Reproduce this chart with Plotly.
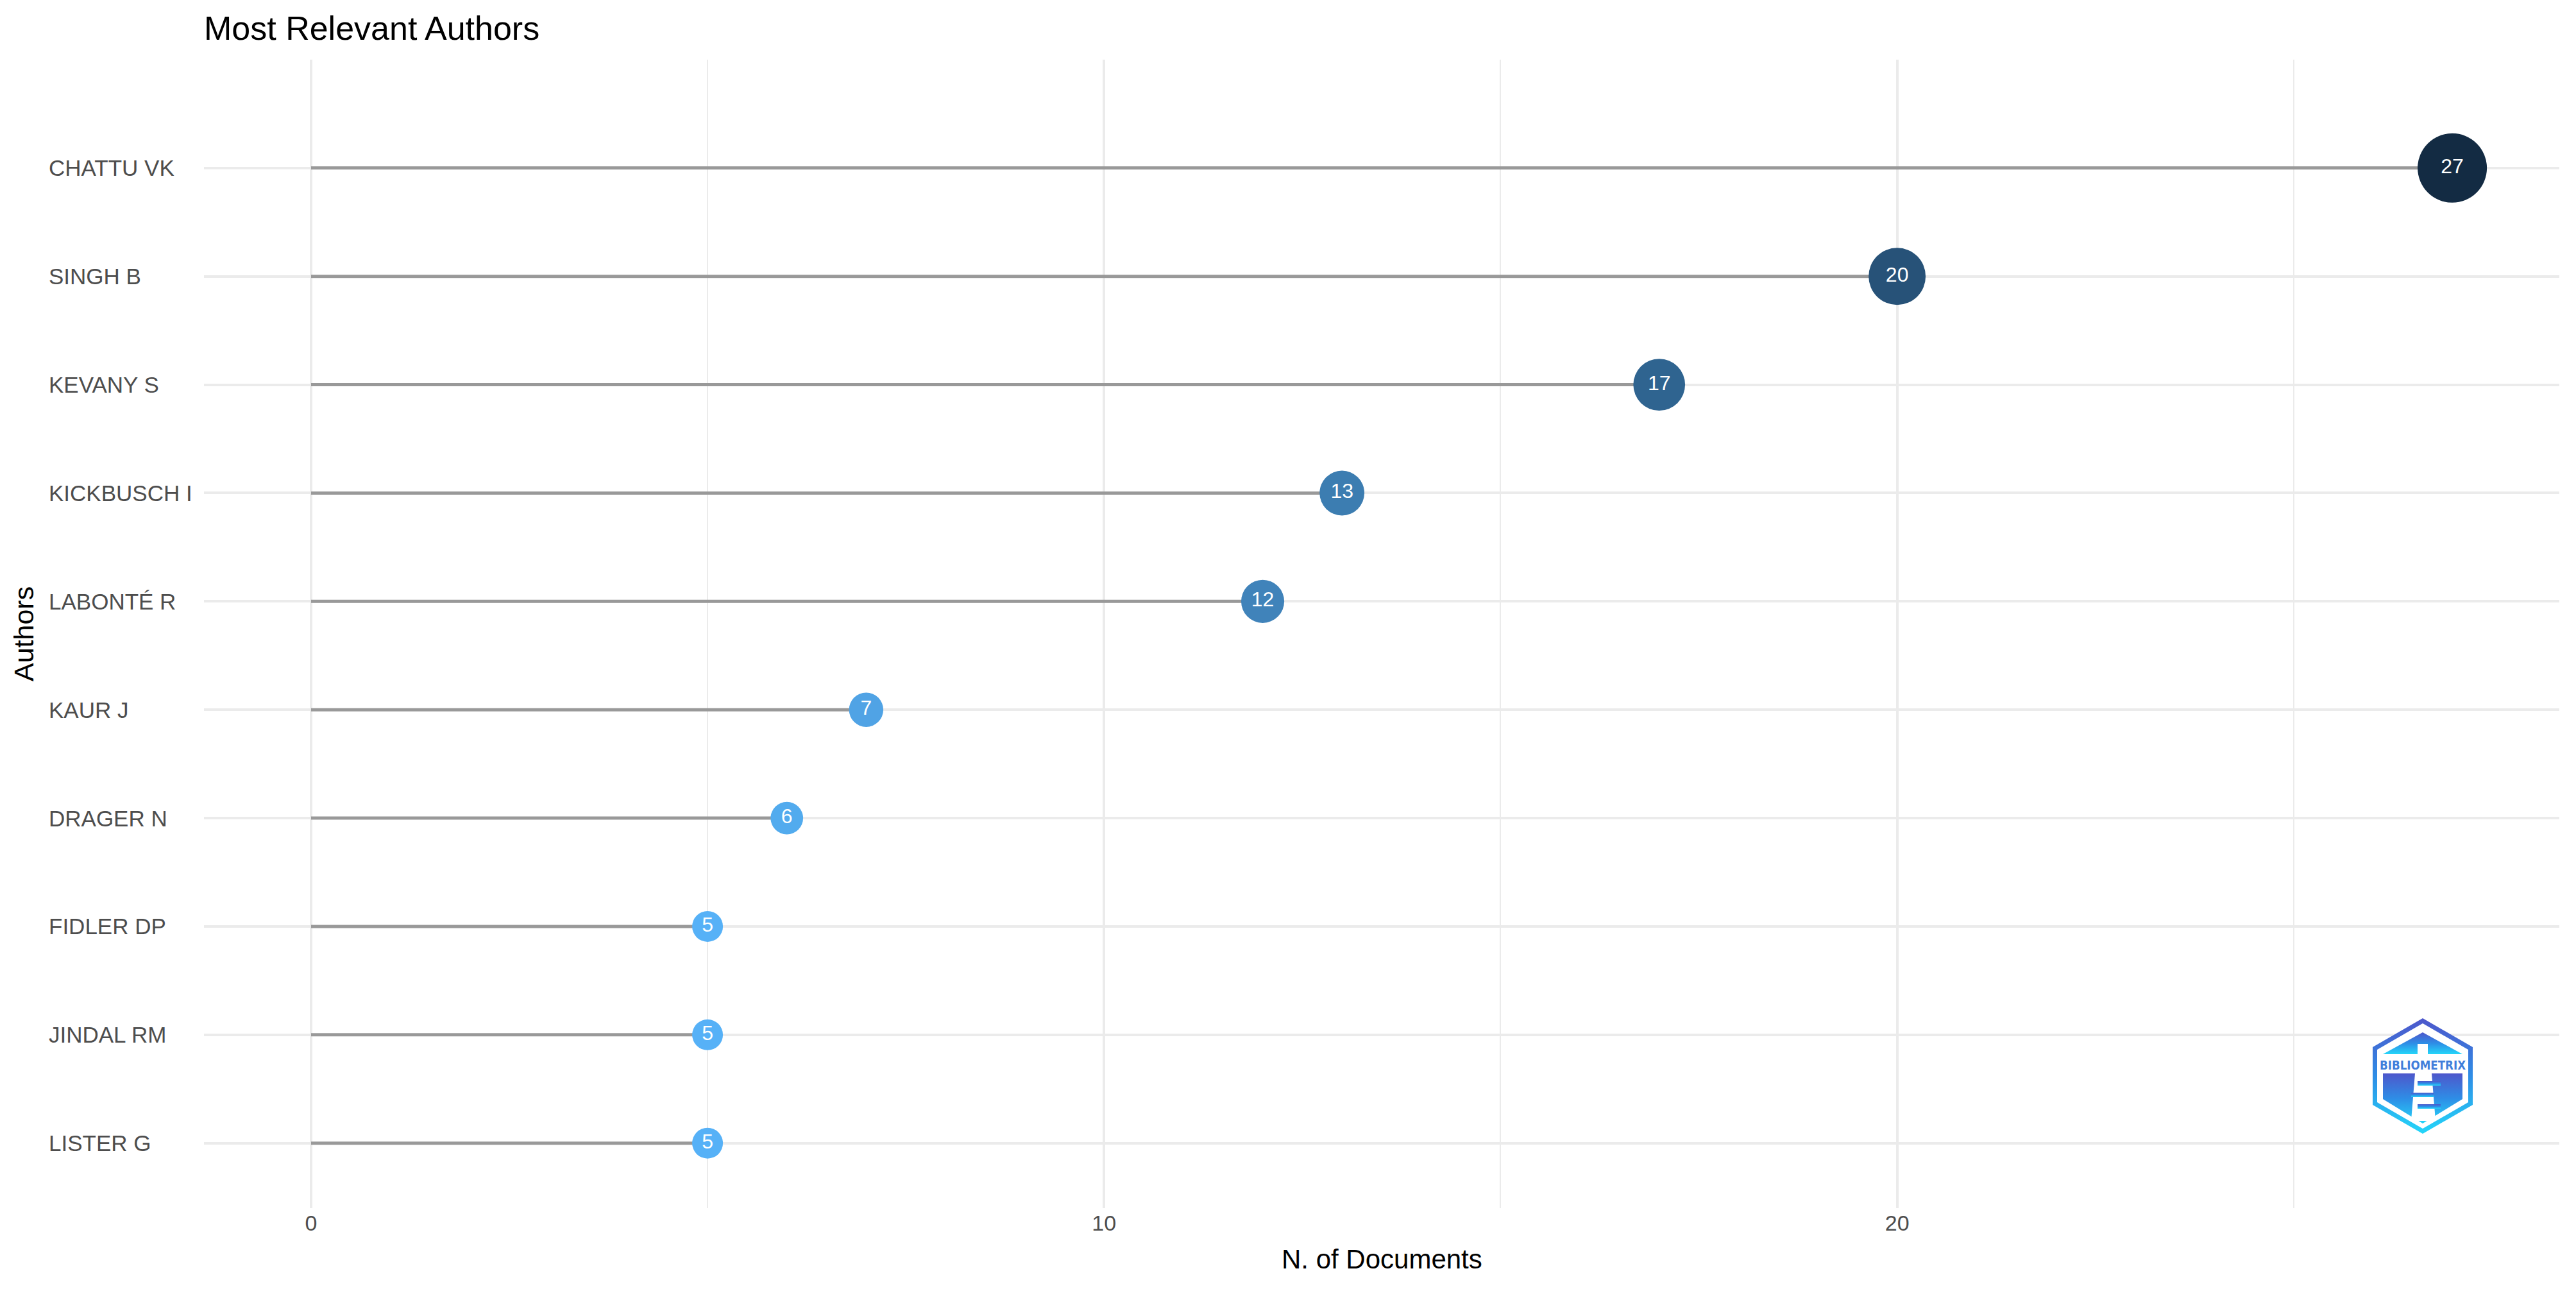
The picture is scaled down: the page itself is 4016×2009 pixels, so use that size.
import base64
import numpy as np
import plotly.graph_objects as go

# ---------------- data ----------------
authors = ["CHATTU VK", "SINGH B", "KEVANY S", "KICKBUSCH I", "LABONTÉ R",
           "KAUR J", "DRAGER N", "FIDLER DP", "JINDAL RM", "LISTER G"]
docs = [27, 20, 17, 13, 12, 7, 6, 5, 5, 5]
x_ticks = [0, 10, 20]

title_text = "Most Relevant Authors"
x_title = "N. of Documents"
y_title = "Authors"

# ---------------- layout geometry (px) ----------------
W, H = 4016, 2009
L, R, T, B = 318, 4016 - 3990, 93, 2009 - 1883
PW, PH = W - L - R, H - T - B

FONT = "Liberation Sans, Arial, Helvetica, sans-serif"
TICK_COL = "#4D4D4D"
GRID_COL = "#EBEBEB"


# ---------------- colour scale (ggplot-like Lab interpolation) ----------------
def _hex2rgb(h):
    h = h.lstrip("#")
    return np.array([int(h[i:i + 2], 16) / 255 for i in (0, 2, 4)])


def _lin(c):
    return np.where(c <= 0.04045, c / 12.92, ((c + 0.055) / 1.055) ** 2.4)


def _delin(c):
    return np.where(c <= 0.0031308, 12.92 * c, 1.055 * np.power(np.clip(c, 0, None), 1 / 2.4) - 0.055)


M = np.array([[0.4124, 0.3576, 0.1805], [0.2126, 0.7152, 0.0722], [0.0193, 0.1192, 0.9505]])
WP = np.array([0.95047, 1.0, 1.08883])


def _f(t):
    d = 6 / 29
    return np.where(t > d ** 3, np.cbrt(t), t / (3 * d * d) + 4 / 29)


def _finv(t):
    d = 6 / 29
    return np.where(t > d, t ** 3, 3 * d * d * (t - 4 / 29))


def hex2lab(h):
    xyz = M @ _lin(_hex2rgb(h)) / WP
    fx, fy, fz = _f(xyz)
    return np.array([116 * fy - 16, 500 * (fx - fy), 200 * (fy - fz)])


def lab2hex(lab):
    Lv, a, b = lab
    fy = (Lv + 16) / 116
    xyz = np.array([_finv(fy + a / 500), _finv(fy), _finv(fy - b / 200)]) * WP
    rgb = np.clip(_delin(np.linalg.inv(M) @ xyz), 0, 1)
    return "#%02X%02X%02X" % tuple(int(round(v * 255)) for v in rgb)


lo, hi = hex2lab("#56B1F7"), hex2lab("#132B43")
colorscale = [[float(t), lab2hex(lo + (hi - lo) * t)] for t in np.linspace(0, 1, 21)]

# marker diameters grow linearly with value
vmin, vmax = min(docs), max(docs)
sizes = [48 + (v - vmin) / (vmax - vmin) * 60 for v in docs]

fig = go.Figure()

# lollipop stems
sx, sy = [], []
for a, v in zip(authors, docs):
    sx += [0, v, None]
    sy += [a, a, None]
fig.add_trace(go.Scatter(x=sx, y=sy, mode="lines",
                         line=dict(color="#999999", width=5),
                         hoverinfo="skip", showlegend=False))

# bubbles
fig.add_trace(go.Scatter(
    x=docs, y=authors, mode="markers+text",
    text=[str(v) for v in docs], textposition="middle center",
    textfont=dict(family=FONT, size=32, color="white"),
    marker=dict(size=sizes, sizemode="diameter", color=docs,
                colorscale=colorscale, cmin=vmin, cmax=vmax,
                line=dict(width=0), opacity=1),
    showlegend=False))

order = authors[::-1]

# left-aligned category labels
annotations = []
for a in authors:
    annotations.append(dict(x=(74 - L) / PW, xref="paper", y=a, yref="y",
                            text=a, showarrow=False, xanchor="left", yanchor="middle",
                            font=dict(family=FONT, size=35, color=TICK_COL)))
annotations.append(dict(x=(37 - L) / PW, xref="paper", y=0.5, yref="paper",
                        text=y_title, textangle=-90, showarrow=False,
                        xanchor="center", yanchor="middle",
                        font=dict(family=FONT, size=43, color="black")))
annotations.append(dict(x=0.5, xref="paper", y=-(1962 - (T + PH)) / PH, yref="paper",
                        text=x_title, showarrow=False, xanchor="center", yanchor="middle",
                        font=dict(family=FONT, size=42, color="black")))

# logo (inline SVG)
svg = """<svg xmlns="http://www.w3.org/2000/svg" viewBox="0 0 156 180" width="156" height="180">
<defs><linearGradient id="g" x1="0" y1="0" x2="0" y2="1">
<stop offset="0" stop-color="#4E57CB"/><stop offset="0.5" stop-color="#2E8DE6"/><stop offset="1" stop-color="#24D6F9"/>
</linearGradient></defs>
<polygon points="78,0 156,45 156,135 78,180 0,135 0,45" fill="url(#g)"/>
<polygon points="78,8 149,49 149,131 78,172 7,131 7,49" fill="#fff"/>
<polygon points="78,22 140,56 16,56" fill="url(#g)"/>
<polygon points="16,86 140,86 140,126 78,164 16,126" fill="url(#g)"/>
<rect x="10" y="60" width="136" height="24" fill="#fff"/>
<text x="78" y="80" font-family="DejaVu Sans" font-weight="bold" font-size="19" fill="#3F7EDB" text-anchor="middle" textLength="134" lengthAdjust="spacingAndGlyphs">BIBLIOMETRIX</text>
<rect x="70" y="40" width="16" height="18" fill="#fff"/>
<polygon points="66,86 92,86 98,160 60,160" fill="#fff"/>
<rect x="70" y="98" width="36" height="7" fill="url(#g)"/>
<rect x="60" y="116" width="36" height="7" fill="url(#g)"/>
<rect x="70" y="134" width="36" height="7" fill="url(#g)"/>
</svg>"""
logo_src = "data:image/svg+xml;base64," + base64.b64encode(svg.encode()).decode()

fig.update_layout(
    width=W, height=H,
    margin=dict(l=L, r=R, t=T, b=B, autoexpand=False),
    paper_bgcolor="white", plot_bgcolor="white",
    font=dict(family=FONT, color=TICK_COL),
    title=dict(text=title_text, x=318 / W, xref="container", xanchor="left",
               y=1 - 44 / H, yref="container", yanchor="middle",
               font=dict(family=FONT, size=52, color="black")),
    xaxis=dict(range=[-1.35, 28.35], tickvals=x_ticks, showgrid=True,
               gridcolor=GRID_COL, gridwidth=4, zeroline=False, showline=False,
               ticks="", tickfont=dict(family=FONT, size=34, color=TICK_COL),
               minor=dict(dtick=5, tick0=0, showgrid=True, gridcolor=GRID_COL, gridwidth=2),
               automargin=False),
    yaxis=dict(type="category", categoryorder="array", categoryarray=order,
               range=[-0.6, 10.0], showticklabels=False, showgrid=True,
               gridcolor=GRID_COL, gridwidth=4, zeroline=False, showline=False,
               ticks="", automargin=False),
    annotations=annotations,
    images=[dict(source=logo_src, xref="paper", yref="paper",
                 x=(3699 - L) / PW, y=(T + PH - 1587) / PH,
                 sizex=156 / PW, sizey=180 / PH,
                 xanchor="left", yanchor="top", sizing="stretch", layer="above")],
    showlegend=False,
)

fig.write_html("out.html")
